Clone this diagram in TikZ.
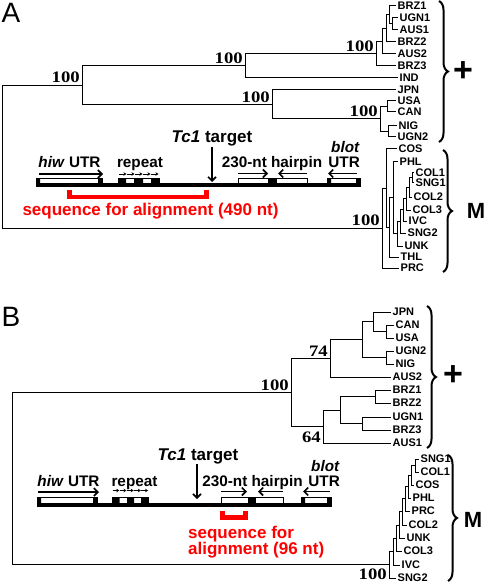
\documentclass[tikz,border=0pt]{standalone}
\usepackage{fontspec}
\setmainfont{Liberation Sans}
\newfontfamily\bootfont[FakeStretch=1.17]{Liberation Serif}
\usetikzlibrary{arrows.meta,decorations.pathreplacing}

\begin{document}
\begin{tikzpicture}[x=1pt,y=-1pt,
	br/.style={line width=1pt},
	leaf/.style={anchor=west,inner sep=1.5pt,font=\fontsize{11}{12}\selectfont\bfseries},
	boot/.style={inner sep=0pt,anchor=south east,font=\fontsize{16}{16}\selectfont\bootfont\bfseries},
	gene/.style={anchor=base,inner sep=0pt,font=\fontsize{15.3}{16}\selectfont\bfseries},
	bigl/.style={anchor=base,inner sep=0pt,font=\fontsize{17}{17}\selectfont\bfseries},
	seq/.style={text=red,anchor=base,inner sep=0pt,font=\fontsize{17}{15}\selectfont\bfseries},
	utr/.style={draw,fill=white,line width=0.8pt},
	garrow/.style={line width=1.6pt,-{Straight Barb[length=4pt,width=8pt]}},
	tiny/.style={line width=0.9pt,-{Stealth[length=3pt,width=3.5pt]}},
	brk/.style={red,line width=4.5pt},
	brc/.style={decorate,decoration={brace,amplitude=9pt},line width=2pt},
	tag/.style={inner sep=0pt,font=\fontsize{28}{28}\selectfont},
	grp/.style={inner sep=0pt,font=\fontsize{22}{22}\selectfont\bfseries},
	plus/.style={inner sep=0pt,font=\fontsize{34}{34}\selectfont\bfseries}]
	\useasboundingbox (0,0) rectangle (485,585);

	\node[tag] (labA) at (11,13) {A};
	\foreach \nm/\x/\y in {BRZ1/396/6, UGN1/398/18, AUS1/398/30, BRZ2/396/42, AUS2/396/54, BRZ3/396/66, IND/398/78, JPN/396/90, USA/396/101, CAN/396/112, NIG/397/126, UGN2/396/137, COS/397/149, PHL/398/162, COL1/414/173, SNG1/414/183, COL2/412/197, COL3/411/210, IVC/407/221, SNG2/406/233, UNK/403/246, THL/399/257, PRC/399/268}
		\node[leaf] (a\nm) at (\x,\y) {\nm};
	\coordinate (a1) at (392,24);
	\coordinate (a2) at (389,15);
	\coordinate (a3) at (386,28.5);
	\coordinate (a4) at (382,41.2);
	\coordinate (a5) at (376,53.6);
	\coordinate (a6) at (245,65.8);
	\coordinate (a7) at (387,106.5);
	\coordinate (a8) at (388,131.5);
	\coordinate (a9) at (380,119);
	\coordinate (a10) at (272,104.5);
	\coordinate (a11) at (82,85.2);
	\coordinate (am1) at (412,178);
	\coordinate (am2) at (409,187.5);
	\coordinate (am3) at (406,198.8);
	\coordinate (am4) at (403,209.9);
	\coordinate (am5) at (400,221.4);
	\coordinate (am6) at (397,233.7);
	\coordinate (am7) at (393,197.9);
	\coordinate (am8) at (389,227.4);
	\coordinate (am9) at (386,188.2);
	\coordinate (am10) at (382,228.1);
	\coordinate (aroot) at (2,156.6);
	\foreach \p/\c in {a1/aUGN1, a1/aAUS1, a2/aBRZ1, a2/a1, a3/a2, a3/aBRZ2, a4/a3, a4/aAUS2, a5/a4, a5/aBRZ3, a6/a5, a6/aIND, a7/aUSA, a7/aCAN, a8/aNIG, a8/aUGN2, a9/a7, a9/a8, a10/aJPN, a10/a9, a11/a6, a11/a10, am1/aCOL1, am1/aSNG1, am2/am1, am2/aCOL2, am3/am2, am3/aCOL3, am4/am3, am4/aIVC, am5/am4, am5/aSNG2, am6/am5, am6/aUNK, am7/aPHL, am7/am6, am8/am7, am8/aTHL, am9/aCOS, am9/am8, am10/am9, am10/aPRC, aroot/a11, aroot/am10}
		\draw[br] (\p) |- (\c);
	\node[boot] (bsa1) at (80,83) {100};
	\node[boot] (bsa2) at (243,63.8) {100};
	\node[boot] (bsa3) at (270,102.5) {100};
	\node[boot] (bsa4) at (374,51.6) {100};
	\node[boot] (bsa5) at (378,117) {100};
	\node[boot] (bsa6) at (380,226.1) {100};
	\draw[brc] (439,1) -- (439,142);
	\node[plus] (plusA) at (463,72) {+};
	\draw[brc] (443,150) -- (443,272);
	\node[grp] (grpA) at (476,211) {M};

	\fill (36,183.5) rectangle (361,187.5);
	\draw[utr] (36,178.3) rectangle (102,183.5);
	\fill (36,178.3) rectangle (40,183.5) (98,178.3) rectangle (102,183.5);
	\draw[utr] (118,178.3) rectangle (159,183.5);
	\fill (118,178.3) rectangle (126,183.5) (134,178.3) rectangle (143,183.5) (151,178.3) rectangle (159,183.5);
	\draw[utr] (238,178.3) rectangle (307,183.5);
	\fill (268,178.3) rectangle (277,183.5);
	\draw[utr] (327,178.3) rectangle (360,183.5);
	\fill (327,178.3) rectangle (331,183.5) (356,178.3) rectangle (360,183.5);
	\draw[garrow] (39,174) -- (103,174);
	\foreach \i in {0,...,4}
		\draw[tiny] ({119+8*\i},174) -- ++(7.5,0);
	\draw[garrow] (238,173.5) -- (268,173.5);
	\draw[garrow] (307,173.5) -- (278,173.5);
	\draw[garrow] (357,173.5) -- (328,173.5);
	\node[gene] (hiwA) at (69.5,167.5) {\textit{hiw} UTR};
	\node[gene] (repA) at (140,167.5) {repeat};
	\node[gene] (hpA) at (272,167.5) {230-nt hairpin};
	\node[gene,anchor=base east] (utrA) at (360,167.5) {UTR};
	\node[gene,anchor=base east] (blotA) at (360,153) {\textit{blot}};
	\node[bigl] (tcA) at (212,143) {\textit{Tc1} target};
	\coordinate (tcAend) at (212,182);
	\draw[garrow] (tcA.south) -- (tcAend);
	\draw[brk] (69.5,190) -- (69.5,196.8) -- (206.5,196.8) -- (206.5,190);
	\node[seq] (seqA) at (150.5,215) {sequence for alignment (490 nt)};

	\node[tag] (labB) at (11,317) {B};
	\foreach \nm/\x/\y in {JPN/391/312, CAN/394/325, USA/394/338, UGN2/394/351, NIG/394/364, AUS2/391/377, BRZ1/391/390, BRZ2/391/403, UGN1/391/417, BRZ3/391/430, AUS1/391/443, SNG1/419/459, COL1/419/472, COS/414/485, PHL/411/498, PRC/410/511, COL2/407/525, UNK/405/538, COL3/402/551, IVC/400/565, SNG2/396/578}
		\node[leaf] (b\nm) at (\x,\y) {\nm};
	\coordinate (b1) at (386,331.5);
	\coordinate (b2) at (373,321.8);
	\coordinate (b3) at (386,357.5);
	\coordinate (b4) at (362,339.6);
	\coordinate (b5) at (330,358.3);
	\coordinate (b6) at (375,396.5);
	\coordinate (b7) at (362,423.5);
	\coordinate (b8) at (340,410);
	\coordinate (b9) at (323,426.5);
	\coordinate (b10) at (291,392.4);
	\coordinate (bm1) at (415,465.5);
	\coordinate (bm2) at (411,475.3);
	\coordinate (bm3) at (408,486.6);
	\coordinate (bm4) at (405,498.8);
	\coordinate (bm5) at (402,511.9);
	\coordinate (bm6) at (399,525);
	\coordinate (bm7) at (396,538);
	\coordinate (bm8) at (393,551.5);
	\coordinate (bm9) at (389,564.8);
	\coordinate (broot) at (12,478.6);
	\foreach \p/\c in {b1/bCAN, b1/bUSA, b2/bJPN, b2/b1, b3/bUGN2, b3/bNIG, b4/b2, b4/b3, b5/b4, b5/bAUS2, b6/bBRZ1, b6/bBRZ2, b7/bUGN1, b7/bBRZ3, b8/b6, b8/b7, b9/b8, b9/bAUS1, b10/b5, b10/b9, bm1/bSNG1, bm1/bCOL1, bm2/bm1, bm2/bCOS, bm3/bm2, bm3/bPHL, bm4/bm3, bm4/bPRC, bm5/bm4, bm5/bCOL2, bm6/bm5, bm6/bUNK, bm7/bm6, bm7/bCOL3, bm8/bm7, bm8/bIVC, bm9/bm8, bm9/bSNG2, broot/b10, broot/bm9}
		\draw[br] (\p) |- (\c);
	\node[boot] (bsb1) at (289,390.4) {100};
	\node[boot] (bsb2) at (328,356.3) {74};
	\node[boot,anchor=north east] (bsb3) at (321,432) {64};
	\node[boot,anchor=north east] (bsb4) at (387,568.5) {100};
	\draw[brc] (427,306) -- (427,448);
	\node[plus] (plusB) at (453,376) {+};
	\draw[brc] (448,455) -- (448,581);
	\node[grp] (grpB) at (473,520) {M};

	\fill (37,503.3) rectangle (332,507.3);
	\draw[utr] (37,497.5) rectangle (97,503.3);
	\fill (37,497.5) rectangle (41,503.3) (93,497.5) rectangle (97,503.3);
	\draw[utr] (112,497.5) rectangle (148,503.3);
	\fill (112,497.5) rectangle (119.5,503.3) (127,497.5) rectangle (134,503.3) (141,497.5) rectangle (148,503.3);
	\draw[utr] (221,497.5) rectangle (283,503.3);
	\fill (248,497.5) rectangle (256,503.3);
	\draw[utr] (301,497.5) rectangle (331,503.3);
	\fill (301,497.5) rectangle (305,503.3) (327,497.5) rectangle (331,503.3);
	\draw[garrow] (38,492) -- (99,492);
	\foreach \i in {0,...,4}
		\draw[tiny] ({112.5+7.2*\i},490.5) -- ++(6.8,0);
	\draw[garrow] (221,491.5) -- (247,491.5);
	\draw[garrow] (283,491.5) -- (258,491.5);
	\draw[garrow] (330,491.5) -- (303,491.5);
	\node[gene] (hiwB) at (68.5,486.5) {\textit{hiw} UTR};
	\node[gene] (repB) at (134.5,486.5) {repeat};
	\node[gene] (hpB) at (252.5,486) {230-nt hairpin};
	\node[gene,anchor=base east] (utrB) at (340,486) {UTR};
	\node[gene,anchor=base east] (blotB) at (340,471) {\textit{blot}};
	\node[bigl] (tcB) at (198,460) {\textit{Tc1} target};
	\coordinate (tcBend) at (197,499);
	\draw[garrow] (tcB.south -| tcBend) -- (tcBend);
	\draw[brk,line width=5pt] (222.5,511) -- (222.5,517.5) -- (245.5,517.5) -- (245.5,511);
	\node[seq,align=left,anchor=north west] (seqB) at (188,525.6) {sequence for\\alignment (96 nt)};
\end{tikzpicture}
\end{document}
